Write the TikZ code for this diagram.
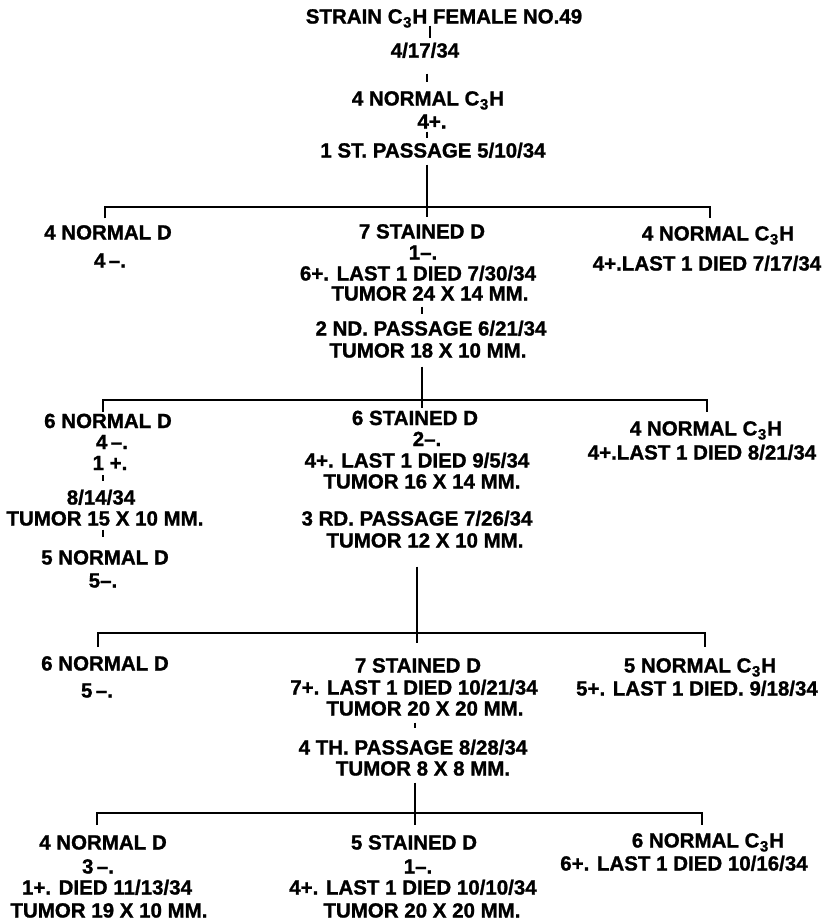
\documentclass[tikz,border=0pt]{standalone}
\usepackage{fontspec}
\setmainfont{Liberation Sans}[BoldFeatures={FakeBold=1.2}]
\newcommand{\CtH}{C\kern0.5pt\raisebox{-4pt}{\fontsize{15}{15}\selectfont 3}\kern1pt H}
\newcommand{\lab}{\bfseries\fontsize{20.5}{22}\selectfont}
\newcommand{\labstack}{\bfseries\fontsize{20.5}{21}\selectfont}
\tikzset{
  lbl/.style={font=\lab, inner sep=0pt, text height=15pt, text depth=0pt},
  lblstack/.style={font=\labstack, inner sep=0pt, align=center, anchor=north},
  conn/.style={line width=2.6pt, line cap=butt},
  tick/.style={line width=2.2pt}
}
\begin{document}
\begin{tikzpicture}[x=1pt,y=-1pt]
\useasboundingbox[fill=white] (0,0) rectangle (839,924);
% column x positions
\coordinate (c0) at (430,0);
\coordinate (c1) at (427,0);
\coordinate (c2) at (422,0);
\coordinate (c3) at (417,0);
\coordinate (c4) at (415,0);
\coordinate (cl) at (103,0);
% brackets
\coordinate (b1l) at (105,207); \coordinate (b1c) at (427,207); \coordinate (b1r) at (710,207);
\coordinate (b2l) at (103,400); \coordinate (b2c) at (422,400); \coordinate (b2r) at (707,400);
\coordinate (b3l) at (98,633);  \coordinate (b3c) at (417,633); \coordinate (b3r) at (705,633);
\coordinate (b4l) at (97,813);  \coordinate (b4c) at (415,813); \coordinate (b4r) at (702,813);

% top
\node[lbl] (s0) at (444,16) {STRAIN \CtH\ FEMALE NO.49};
\node[lbl] (s1) at (425,50) {4/17/34};
\node[lbl] (s2) at (428,98) {4 NORMAL \CtH};
\node[lbl] (s3) at (432,121) {4+.};
\node[lbl] (s4) at (433,150) {1 ST. PASSAGE 5/10/34};

% row 1
\node[lbl] (a1) at (108,232) {4 NORMAL D};
\node[lbl] (a2) at (110,260) {4\,--.};
\node[lbl] (m1) at (422,231) {7 STAINED D};
\node[lbl] (m2) at (423,252) {1--.};
\node[lbl] (m3) at (418,273) {6+. LAST 1 DIED 7/30/34};
\node[lbl] (m4) at (430,293) {TUMOR 24 X 14 MM.};
\node[lbl] (m5) at (431,328) {2 ND. PASSAGE 6/21/34};
\node[lbl] (m6) at (428,350) {TUMOR 18 X 10 MM.};
\node[lbl] (r1) at (718,233) {4 NORMAL \CtH};
\node[lbl] (r2) at (707,263) {4+.LAST 1 DIED 7/17/34};

% row 2
\node[lblstack] (a3) at (108,413.5) {6 NORMAL D\\\hspace*{8pt}4\,--.\\\hspace*{4pt}1 +.};
\node[lbl] (a6) at (101,497) {8/14/34};
\node[lbl] (a7) at (105,518) {TUMOR 15 X 10 MM.};
\node[lbl] (a8) at (105,557) {5 NORMAL D};
\node[lbl] (a9) at (103,580) {5--.};
\node[lblstack] (m7) at (415,410.5) {6 STAINED D\\\hspace*{24pt}2--.};
\node[lbl] (m9) at (417,460) {4+. LAST 1 DIED 9/5/34};
\node[lbl] (m10) at (422,481) {TUMOR 16 X 14 MM.};
\node[lbl] (m11) at (417,518) {3 RD. PASSAGE 7/26/34};
\node[lbl] (m12) at (425,540) {TUMOR 12 X 10 MM.};
\node[lbl] (r3) at (706,428) {4 NORMAL \CtH};
\node[lbl] (r4) at (702,452) {4+.LAST 1 DIED 8/21/34};

% row 3
\node[lbl] (a10) at (105,663) {6 NORMAL D};
\node[lbl] (a11) at (97,690) {5\,--.};
\node[lbl] (m13) at (418,665) {7 STAINED D};
\node[lbl] (m14) at (414,687) {7+. LAST 1 DIED 10/21/34};
\node[lbl] (m15) at (425,708) {TUMOR 20 X 20 MM.};
\node[lbl] (m16) at (413,747) {4 TH. PASSAGE 8/28/34};
\node[lbl] (m17) at (423,768) {TUMOR 8 X 8 MM.};
\node[lbl] (r5) at (700,665) {5 NORMAL \CtH};
\node[lbl] (r6) at (697,688) {5+. LAST 1 DIED. 9/18/34};

% row 4
\node[lbl] (a12) at (103,842) {4 NORMAL D};
\node[lbl] (a13) at (98,866) {3\,--.};
\node[lbl] (a14) at (107,887) {1+. DIED 11/13/34};
\node[lbl] (a15) at (109,910) {TUMOR 19 X 10 MM.};
\node[lbl] (m18) at (414,842) {5 STAINED D};
\node[lbl] (m19) at (418,866) {1--.};
\node[lbl] (m20) at (413,887) {4+. LAST 1 DIED 10/10/34};
\node[lbl] (m21) at (422,910) {TUMOR 20 X 20 MM.};
\node[lbl] (r7) at (708,840) {6 NORMAL \CtH};
\node[lbl] (r8) at (684,863) {6+. LAST 1 DIED 10/16/34};

% top ticks
\draw[tick, shorten <=2pt, shorten >=4pt] (s0.south -| c0) -- (s1.north -| c0);
\draw[tick, shorten <=16pt, shorten >=8pt] (s1.south -| c1) -- (s2.north -| c1);
\draw[tick, shorten <=3pt, shorten >=4pt] (s3.south -| c1) -- (s4.north -| c1);

% bracket 1
\draw[conn, shorten <=7pt] (s4.south -| b1c) -- (b1c);
\draw[conn] (a1.north -| b1l) ++(0,-6) -- (b1l) -- (b1r) -- ++(0,11);
\draw[conn] (b1c) -- ++(0,10);
\draw[tick, shorten <=6pt, shorten >=6pt] (m4.south -| c2) -- (m5.north -| c2);

% bracket 2
\draw[conn, shorten <=9pt] (m6.south -| b2c) -- (b2c);
\draw[conn] (b2l) ++(0,12) -- (b2l) -- (b2r) -- ++(0,12);
\draw[conn] (b2c) -- ++(0,8);
\draw[tick, shorten <=5pt, shorten >=8pt] (a3.south -| cl) -- (a6.north -| cl);
\draw[tick, shorten <=4pt, shorten >=12pt] (a7.south -| cl) -- (a8.north -| cl);

% bracket 3
\draw[conn, shorten <=19pt] (m12.south -| b3c) -- (b3c);
\draw[conn] (b3l) ++(0,14) -- (b3l) -- (b3r) -- ++(0,14);
\draw[conn] (b3c) -- ++(0,10);
\draw[tick, shorten <=7pt, shorten >=11pt] (m15.south -| c4) -- (m16.north -| c4);

% bracket 4
\draw[conn, shorten <=7pt] (m17.south -| b4c) -- (b4c);
\draw[conn] (b4l) ++(0,12) -- (b4l) -- (b4r) -- ++(0,12);
\draw[conn] (b4c) -- ++(0,12);
\end{tikzpicture}
\end{document}
